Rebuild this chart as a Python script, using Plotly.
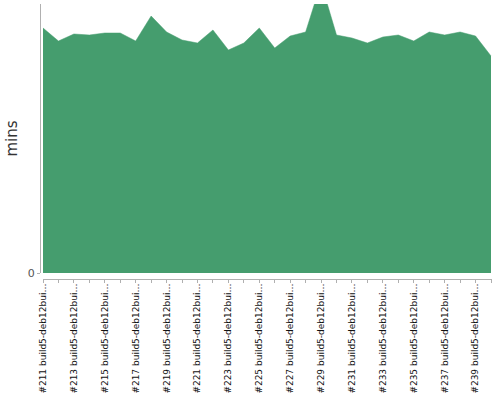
import plotly.graph_objects as go

builds = list(range(211, 241))
categories = [f"#{b} build5-deb12bui…" for b in builds]
mins = [24.5, 23.2, 23.9, 23.8, 24.0, 24.0, 23.2, 25.7, 24.1, 23.3,
        23.0, 24.3, 22.3, 23.0, 24.5, 22.5, 23.7, 24.1, 29.0, 23.8,
        23.5, 23.0, 23.6, 23.8, 23.2, 24.1, 23.8, 24.1, 23.7, 21.7]
tick_text = [c if i % 2 == 0 else "" for i, c in enumerate(categories)]
y_max = 26.9

GREEN = "rgb(69,157,110)"
AXIS = "#b0b0b0"

fig = go.Figure(go.Scatter(
    x=categories, y=mins, mode="lines", fill="tozeroy",
    fillcolor=GREEN, line=dict(color=GREEN, width=0.5), hoverinfo="x+y",
))

fig.update_layout(
    width=500, height=400,
    margin=dict(l=40, r=8, t=4, b=121, autoexpand=False),
    plot_bgcolor="white", paper_bgcolor="white",
    showlegend=False,
    font=dict(family="DejaVu Sans", color="#222"),
    xaxis=dict(
        type="category", domain=[3 / 452, 1], anchor="free", position=0,
        automargin=False,
        range=[0, 29.065], tickmode="array", tickvals=categories, ticktext=tick_text,
        tickangle=-90, tickfont=dict(size=9, color="#111", family="DejaVu Sans"),
        ticklabelstandoff=-3,
        showline=True, linecolor=AXIS, linewidth=1,
        ticks="outside", ticklen=3, tickcolor=AXIS, showgrid=False, zeroline=False,
    ),
    yaxis=dict(
        domain=[6 / 275, 1], anchor="free", position=0, automargin=False,
        range=[0, y_max], tickmode="array", tickvals=[0], ticktext=["0"],
        tickfont=dict(size=11, color="#555"),
        showline=True, linecolor=AXIS, linewidth=1,
        ticks="outside", ticklen=3, tickcolor=AXIS, showgrid=False, zeroline=False,
        title=dict(text="mins", font=dict(size=15, color="#333"), standoff=5),
    ),
)

fig.write_html("out.html", config={"displayModeBar": False},
               post_script="document.body.style.margin='0';")
